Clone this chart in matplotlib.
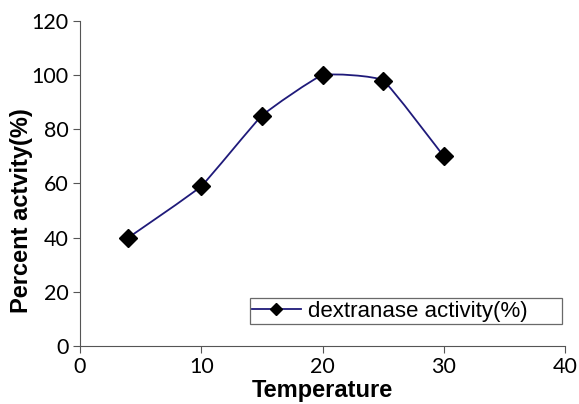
import numpy as np
import matplotlib
matplotlib.use("Agg")
import matplotlib.pyplot as plt
from matplotlib.path import Path
from matplotlib.patches import PathPatch
from matplotlib.lines import Line2D

temperature = [4, 10, 15, 20, 25, 30]
activity = [40, 59, 85, 100, 98, 70]
series_name = "dextranase activity(%)"
line_color = "#1f1a7a"


def smooth_path(x, y, k=0.06):
    # lightly smoothed line: cubic bezier segments through the points
    x = np.asarray(x, float)
    y = np.asarray(y, float)
    verts = [(x[0], y[0])]
    codes = [Path.MOVETO]
    n = len(x)
    for i in range(n - 1):
        x0, y0 = (x[i - 1], y[i - 1]) if i > 0 else (x[i], y[i])
        x3, y3 = (x[i + 2], y[i + 2]) if i + 2 < n else (x[i + 1], y[i + 1])
        c1 = (x[i] + (x[i + 1] - x0) * k, y[i] + (y[i + 1] - y0) * k)
        c2 = (x[i + 1] - (x3 - x[i]) * k, y[i + 1] - (y3 - y[i]) * k)
        verts += [c1, c2, (x[i + 1], y[i + 1])]
        codes += [Path.CURVE4] * 3
    return Path(verts, codes)


fig = plt.figure(figsize=(5.79, 4.04), dpi=100)
ax = fig.add_axes([0.138, 0.144, 0.838, 0.804])

ax.add_patch(PathPatch(smooth_path(temperature, activity), fill=False,
                       edgecolor=line_color, lw=1.3, zorder=2))
ax.plot(temperature, activity, ls="none", marker="D", ms=9.5, color="black", zorder=3)

ax.set_xlim(0, 40)
ax.set_ylim(0, 120)
ax.set_xticks([0, 10, 20, 30, 40])
ax.set_yticks(range(0, 121, 20))
for s in ["top", "right"]:
    ax.spines[s].set_visible(False)
for s in ["left", "bottom"]:
    ax.spines[s].set_color("#555555")
ax.tick_params(direction="out", length=5, color="#555555", labelsize=15.5, pad=3)
for lab in ax.get_xticklabels() + ax.get_yticklabels():
    lab.set_family("Lato")

ax.set_xlabel("Temperature", fontsize=17, fontweight="bold", family="Liberation Sans")
ax.xaxis.set_label_coords(0.5, -0.102, transform=ax.transAxes)
ax.xaxis.label.set_va("top")
ax.set_ylabel("Percent actvity(%)", fontsize=17, fontweight="bold", family="Liberation Sans")
ax.yaxis.set_label_coords(-0.12, 0.415)
ax.yaxis.label.set_va("center")

handle = Line2D([], [], color=line_color, marker="D", markerfacecolor="black",
                markeredgecolor="black", ms=6, lw=1.3)
leg = ax.legend([handle], [series_name], loc="lower left", bbox_to_anchor=(0.35, 0.068, 0.643, 0.092),
                mode="expand", frameon=True, fancybox=False, edgecolor="#444444",
                prop={"family": "Liberation Sans", "size": 16}, handlelength=2.2, handletextpad=0.3,
                borderpad=0.1, borderaxespad=0)
leg.get_frame().set_linewidth(0.9)

fig.savefig("out.png", dpi=100)
